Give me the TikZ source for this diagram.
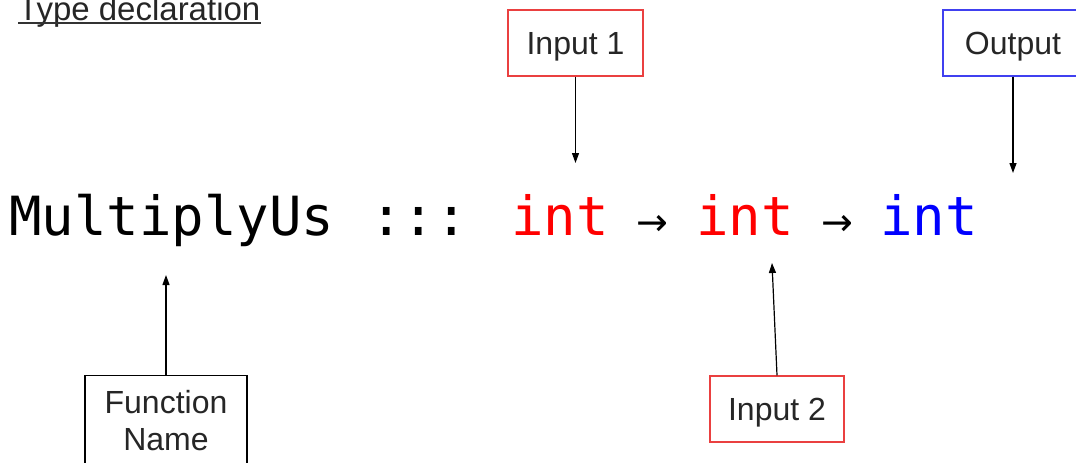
\documentclass[tikz,border=0pt]{standalone}
\usepackage{fontspec}
\setmainfont{Liberation Sans}
\newfontfamily\codefont{DejaVu Sans Mono}
\newfontfamily\symbfont{DejaVu Sans}
\usetikzlibrary{positioning}
\usetikzlibrary{arrows.meta}
\definecolor{inred}{RGB}{234,64,64}
\definecolor{outblue}{RGB}{64,64,240}
\tikzset{
   box/.style = {%
    shape=rectangle,
    draw=black,
    line width=1.4pt,
    fill=white,
    text=black!85,
    align=center,
    font=\fontsize{32}{37}\selectfont},
 code/.style = {%
    inner sep=0pt,
    anchor=base,
    font=\codefont\fontsize{54}{54}\selectfont},
 maps/.style = {%
    code,
    font=\symbfont\fontsize{38}{38}\selectfont},
 arrow/.style = {%
    draw=black,
    line width=1.2pt,% <-- thin connector
    -{Triangle[length=10pt,width=7pt]}},
    }

\begin{document}
\begin{tikzpicture}[x=1pt, y=-1pt]
    \useasboundingbox (0,0) rectangle (1076,463);
    % heading
    \node[inner sep=0pt, anchor=base west, text=black!85,
        font=\fontsize{33}{33}\selectfont] (title) at (18,20) {Type declaration};
    \draw[line width=2pt, black!80] ([yshift=-3pt]title.base west) -- ([yshift=-3pt]title.base east);
    % the declaration itself
    \node[code, anchor=base west] (fname) at (9,235) {MultiplyUs};
    \node[code] (sep) at (419,235) {:::};
    \node[code, text=red] (int1) at (560,235) {int};
    \node[maps] (to1) at (652,235) {→};
    \node[code, text=red] (int2) at (745,235) {int};
    \node[maps] (to2) at (837,235) {→};
    \node[code, text=blue] (int3) at (929,235) {int};
    % labels
    \node[box, text depth=0pt, draw=inred, minimum width=135pt, minimum height=66pt] (inp1) at (575.5,43) {Input 1};
    \node[box, text depth=0pt, draw=outblue, minimum width=140pt, minimum height=66pt] (outp) at (1013,43) {Output};
    \node[box, anchor=north, minimum width=162pt, minimum height=90pt] (fnbox) at (166,375) {Function\\Name};
    \node[box, text depth=0pt, draw=inred, minimum width=134pt, minimum height=66pt] (inp2) at (777,409) {Input 2};
    % pointers
    \coordinate (int1top) at (575.5,163);
    \coordinate (int3top) at (1013,173);
    \coordinate (fnamebot) at (166,275);
    \coordinate (int2bot) at (772,263);
    \draw[arrow] (inp1.south) -- (int1top);
    \draw[arrow] (outp.south) -- (int3top);
    \draw[arrow] (fnbox.north) -- (fnamebot);
    \draw[arrow] (inp2.north) -- (int2bot);
\end{tikzpicture}
\end{document}
